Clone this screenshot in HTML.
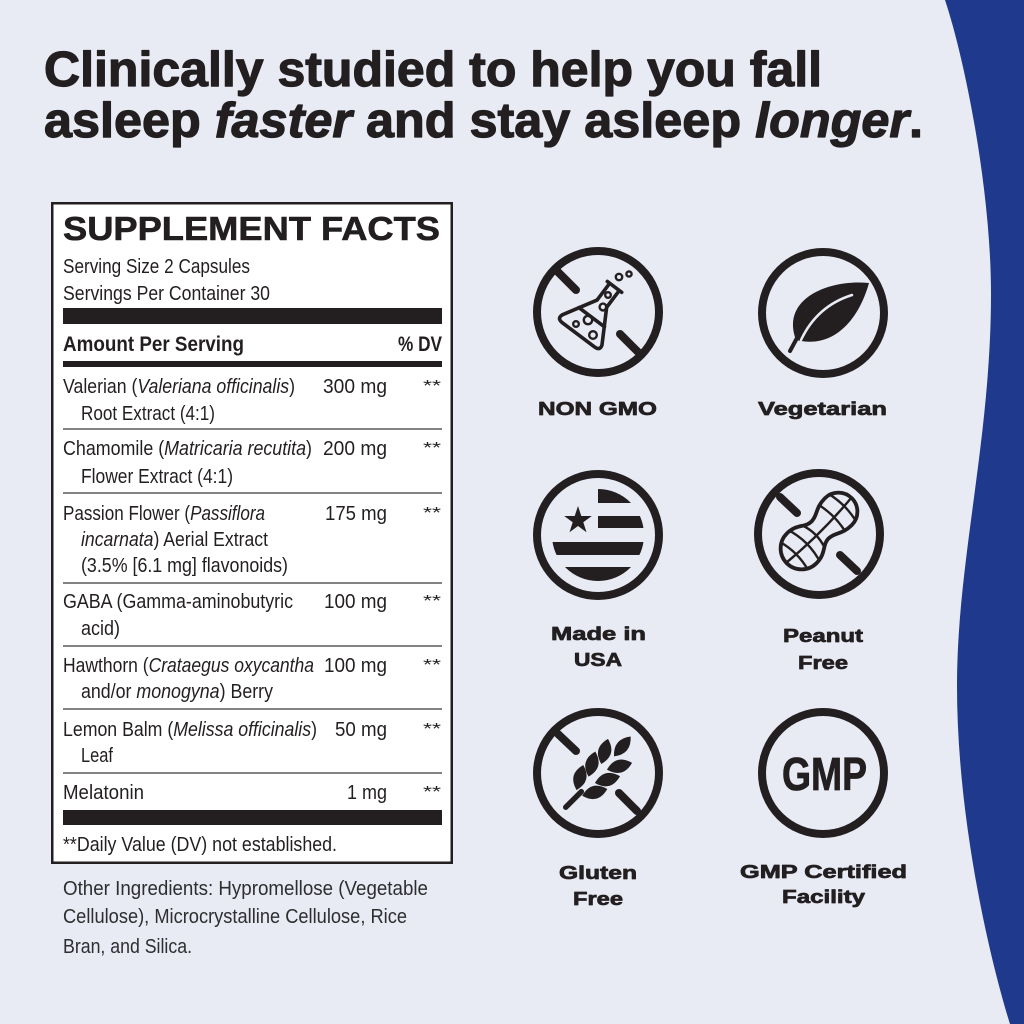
<!DOCTYPE html>
<html>
<head>
<meta charset="utf-8">
<style>
  html,body{margin:0;padding:0;background:#e8eaf4;}
  svg{display:block;}
  .t{font-family:"Liberation Sans",Arial,sans-serif;fill:#231f20;}
  .b{font-weight:bold;}
  .i{font-style:italic;}
</style>
</head>
<body>
<svg width="1024" height="1024" viewBox="0 0 1024 1024" xmlns="http://www.w3.org/2000/svg">
  <rect x="0" y="0" width="1024" height="1024" fill="#e8eaf4"/>
  <!-- blue wave -->
  <path d="M945,0 C965,60 991,190 991,294 C991,440 957,560 957,686 C957,820 990,960 1010,1024 L1024,1024 L1024,0 Z" fill="#1f3a8c"/>

  <!-- Title -->
  <g stroke="#231f20" stroke-width="1.2" stroke-linejoin="round">
  <text class="t b" x="44" y="86" font-size="49" textLength="778" lengthAdjust="spacingAndGlyphs">Clinically studied to help you fall</text>
  <text class="t b" x="44" y="137" font-size="49" textLength="879" lengthAdjust="spacingAndGlyphs">asleep <tspan class="i">faster</tspan> and stay asleep <tspan class="i">longer</tspan>.</text>
  </g>

  <!-- Supplement facts box -->
  <rect x="52.25" y="203.25" width="399.5" height="659.5" fill="#ffffff" stroke="#231f20" stroke-width="2.5"/>
  <text class="t b" x="63" y="240" font-size="33" textLength="377" lengthAdjust="spacingAndGlyphs" stroke="#231f20" stroke-width="0.6">SUPPLEMENT FACTS</text>
  <text class="t" x="63" y="273" font-size="20" textLength="187" lengthAdjust="spacingAndGlyphs">Serving Size 2 Capsules</text>
  <text class="t" x="63" y="300" font-size="20" textLength="207" lengthAdjust="spacingAndGlyphs">Servings Per Container 30</text>
  <rect x="63" y="308" width="379" height="16" fill="#231f20"/>
  <text class="t b" x="63" y="351" font-size="21" textLength="181" lengthAdjust="spacingAndGlyphs">Amount Per Serving</text>
  <text class="t b" x="398" y="351" font-size="21" textLength="44" lengthAdjust="spacingAndGlyphs">% DV</text>
  <rect x="63" y="361" width="379" height="6" fill="#231f20"/>

  <g class="t" font-size="20">
    <text x="63" y="393" textLength="232" lengthAdjust="spacingAndGlyphs">Valerian (<tspan class="i">Valeriana officinalis</tspan>)</text>
    <text x="323" y="393" textLength="64" lengthAdjust="spacingAndGlyphs">300 mg</text>
    <text x="81" y="420" textLength="134" lengthAdjust="spacingAndGlyphs">Root Extract (4:1)</text>

    <text x="63" y="455" textLength="249" lengthAdjust="spacingAndGlyphs">Chamomile (<tspan class="i">Matricaria recutita</tspan>)</text>
    <text x="323" y="455" textLength="64" lengthAdjust="spacingAndGlyphs">200 mg</text>
    <text x="81" y="483" textLength="152" lengthAdjust="spacingAndGlyphs">Flower Extract (4:1)</text>

    <text x="63" y="520" textLength="202" lengthAdjust="spacingAndGlyphs">Passion Flower (<tspan class="i">Passiflora</tspan></text>
    <text x="325" y="520" textLength="62" lengthAdjust="spacingAndGlyphs">175 mg</text>
    <text x="81" y="546" textLength="187" lengthAdjust="spacingAndGlyphs"><tspan class="i">incarnata</tspan>) Aerial Extract</text>
    <text x="81" y="572" textLength="207" lengthAdjust="spacingAndGlyphs">(3.5% [6.1 mg] flavonoids)</text>

    <text x="63" y="608" textLength="230" lengthAdjust="spacingAndGlyphs">GABA (Gamma-aminobutyric</text>
    <text x="324" y="608" textLength="63" lengthAdjust="spacingAndGlyphs">100 mg</text>
    <text x="81" y="635" textLength="39" lengthAdjust="spacingAndGlyphs">acid)</text>

    <text x="63" y="672" textLength="251" lengthAdjust="spacingAndGlyphs">Hawthorn (<tspan class="i">Crataegus oxycantha</tspan></text>
    <text x="324" y="672" textLength="63" lengthAdjust="spacingAndGlyphs">100 mg</text>
    <text x="81" y="698" textLength="192" lengthAdjust="spacingAndGlyphs">and/or <tspan class="i">monogyna</tspan>) Berry</text>

    <text x="63" y="736" textLength="254" lengthAdjust="spacingAndGlyphs">Lemon Balm (<tspan class="i">Melissa officinalis</tspan>)</text>
    <text x="335" y="736" textLength="52" lengthAdjust="spacingAndGlyphs">50 mg</text>
    <text x="81" y="762" textLength="32" lengthAdjust="spacingAndGlyphs">Leaf</text>

    <text x="63" y="799" textLength="81" lengthAdjust="spacingAndGlyphs">Melatonin</text>
    <text x="347" y="799" textLength="40" lengthAdjust="spacingAndGlyphs">1 mg</text>

    <text x="63" y="851" textLength="274" lengthAdjust="spacingAndGlyphs">**Daily Value (DV) not established.</text>
  </g>
  <g class="t" font-size="16">
    <text x="423" y="391" textLength="18" lengthAdjust="spacingAndGlyphs">**</text>
    <text x="423" y="453" textLength="18" lengthAdjust="spacingAndGlyphs">**</text>
    <text x="423" y="518" textLength="18" lengthAdjust="spacingAndGlyphs">**</text>
    <text x="423" y="606" textLength="18" lengthAdjust="spacingAndGlyphs">**</text>
    <text x="423" y="670" textLength="18" lengthAdjust="spacingAndGlyphs">**</text>
    <text x="423" y="734" textLength="18" lengthAdjust="spacingAndGlyphs">**</text>
    <text x="423" y="797" textLength="18" lengthAdjust="spacingAndGlyphs">**</text>
  </g>
  <g stroke="#5a5a5a" stroke-width="1.5">
    <line x1="63" y1="429" x2="442" y2="429"/>
    <line x1="63" y1="493" x2="442" y2="493"/>
    <line x1="63" y1="583" x2="442" y2="583"/>
    <line x1="63" y1="646" x2="442" y2="646"/>
    <line x1="63" y1="709" x2="442" y2="709"/>
    <line x1="63" y1="773" x2="442" y2="773"/>
  </g>
  <rect x="63" y="810" width="379" height="15" fill="#231f20"/>

  <!-- Other ingredients -->
  <g class="t" font-size="20" style="fill:#2e2e30">
    <text x="63" y="895" textLength="365" lengthAdjust="spacingAndGlyphs">Other Ingredients: Hypromellose (Vegetable</text>
    <text x="63" y="923" textLength="344" lengthAdjust="spacingAndGlyphs">Cellulose), Microcrystalline Cellulose, Rice</text>
    <text x="63" y="953" textLength="129" lengthAdjust="spacingAndGlyphs">Bran, and Silica.</text>
  </g>

  <!-- ICON RINGS -->
  <g fill="none" stroke="#231f20" stroke-width="8">
    <circle cx="598" cy="312" r="61"/>
    <circle cx="823" cy="313" r="61"/>
    <circle cx="598" cy="535" r="61"/>
    <circle cx="819" cy="534" r="61"/>
    <circle cx="598" cy="773" r="61"/>
    <circle cx="823" cy="773" r="61"/>
  </g>
  <!-- slashes -->
  <g stroke="#231f20" stroke-width="8" stroke-linecap="round">
    <line x1="557" y1="271" x2="576" y2="290"/>
    <line x1="620" y1="334" x2="639" y2="353"/>
    <line x1="780" y1="497" x2="797" y2="513"/>
    <line x1="840" y1="555" x2="857" y2="571"/>
    <line x1="558" y1="734" x2="576" y2="751"/>
    <line x1="619" y1="793" x2="637" y2="811"/>
  </g>

  <!-- Flask -->
  <g transform="translate(579,334) rotate(37)" fill="none" stroke="#231f20" stroke-width="3.6" stroke-linejoin="round" stroke-linecap="round">
    <path d="M-6,-58 L-6,-38 L-25,-5 Q-27,1 -20,1 L20,1 Q27,1 25,-5 L6,-38 L6,-58"/>
    <line x1="-9" y1="-59" x2="9" y2="-59"/>
    <line x1="-16" y1="-21" x2="16" y2="-21"/>
  </g>
  <g fill="none" stroke="#231f20" stroke-width="2.4">
    <circle cx="576" cy="324" r="2.8"/>
    <circle cx="588" cy="320" r="4.2"/>
    <circle cx="593" cy="335" r="3.8"/>
    <circle cx="603" cy="307" r="3.4"/>
    <circle cx="608" cy="295" r="2.8"/>
    <circle cx="619" cy="277" r="3.2"/>
    <circle cx="629" cy="274" r="2.6"/>
  </g>

  <!-- Leaf -->
  <path d="M796,340 C780,298 830,279 869,283 C858,322 832,349 796,340 Z" fill="#231f20"/>
  <line x1="797" y1="338" x2="790" y2="351" stroke="#231f20" stroke-width="4" stroke-linecap="round"/>
  <path d="M801,340 Q817,306 852,295" fill="none" stroke="#e8eaf4" stroke-width="2.5" stroke-linecap="round"/>

  <!-- USA flag -->
  <defs>
    <clipPath id="usa"><circle cx="598" cy="535" r="46"/></clipPath>
    <clipPath id="pn"><path transform="translate(820,530) rotate(-45)" d="M-26,-21 C-12,-21 -9,-12 0,-12 C9,-12 12,-19 26,-19 A19 19 0 0 1 26,19 C12,19 9,12 0,12 C-9,12 -12,21 -26,21 A21 21 0 0 1 -26,-21 Z"/></clipPath>
  </defs>
  <g clip-path="url(#usa)" fill="#231f20">
    <rect x="598" y="486" width="60" height="17"/>
    <rect x="598" y="516" width="60" height="12"/>
    <rect x="540" y="542" width="120" height="13"/>
    <rect x="540" y="567" width="120" height="25"/>
  </g>
  <polygon fill="#231f20" points="578,506 581.3,516 591.8,516 583.3,522.2 586.5,532.2 578,526 569.5,532.2 572.7,522.2 564.2,516 574.7,516"/>

  <!-- Peanut -->
  <g clip-path="url(#pn)" fill="none" stroke="#231f20" stroke-width="2.4">
    <g transform="translate(820,530) rotate(-45)">
      <path d="M-50,-1 Q0,4 48,-1"/>
      <path d="M-38,-24 Q-30,0 -38,24"/>
      <path d="M-23,-24 Q-15,0 -23,24"/>
      <path d="M-9,-15 Q-4,0 -9,15"/>
      <path d="M16,-22 Q22,0 16,22"/>
      <path d="M31,-22 Q37,0 31,22"/>
    </g>
  </g>
  <path transform="translate(820,530) rotate(-45)" d="M-26,-21 C-12,-21 -9,-12 0,-12 C9,-12 12,-19 26,-19 A19 19 0 0 1 26,19 C12,19 9,12 0,12 C-9,12 -12,21 -26,21 A21 21 0 0 1 -26,-21 Z" fill="none" stroke="#231f20" stroke-width="3.8" stroke-linejoin="round"/>

  <!-- Wheat -->
  <g transform="translate(570,803) rotate(-45)" fill="#231f20">
    <line x1="-6" y1="0" x2="16" y2="0" stroke="#231f20" stroke-width="5.5" stroke-linecap="round"/>
    <path transform="translate(25,-11) rotate(-30)" d="M-13,0 Q0,-13 13,0 Q0,13 -13,0 Z"/>
    <path transform="translate(43,-12) rotate(-30)" d="M-13,0 Q0,-13 13,0 Q0,13 -13,0 Z"/>
    <path transform="translate(61,-12) rotate(-30)" d="M-13,0 Q0,-13 13,0 Q0,13 -13,0 Z"/>
    <path transform="translate(25,10) rotate(30)" d="M-13,0 Q0,-13 13,0 Q0,13 -13,0 Z"/>
    <path transform="translate(43,10) rotate(30)" d="M-13,0 Q0,-13 13,0 Q0,13 -13,0 Z"/>
    <path transform="translate(61,9) rotate(30)" d="M-13,0 Q0,-13 13,0 Q0,13 -13,0 Z"/>
    <path transform="translate(77,-3) rotate(-5)" d="M-13,0 Q0,-12 13,0 Q0,12 -13,0 Z"/>
  </g>

  <!-- GMP -->
  <text class="t b" x="782" y="790" font-size="46" textLength="85" lengthAdjust="spacingAndGlyphs" stroke="#231f20" stroke-width="0.8">GMP</text>

  <!-- Icon labels -->
  <g class="t b" font-size="18" stroke="#231f20" stroke-width="0.7" stroke-linejoin="round">
    <text x="538" y="415" textLength="119" lengthAdjust="spacingAndGlyphs">NON GMO</text>
    <text x="758" y="415" textLength="129" lengthAdjust="spacingAndGlyphs">Vegetarian</text>
    <text x="551" y="640" textLength="95" lengthAdjust="spacingAndGlyphs">Made in</text>
    <text x="574" y="666" textLength="48" lengthAdjust="spacingAndGlyphs">USA</text>
    <text x="783" y="642" textLength="80" lengthAdjust="spacingAndGlyphs">Peanut</text>
    <text x="798" y="669" textLength="50" lengthAdjust="spacingAndGlyphs">Free</text>
    <text x="559" y="879" textLength="78" lengthAdjust="spacingAndGlyphs">Gluten</text>
    <text x="573" y="905" textLength="50" lengthAdjust="spacingAndGlyphs">Free</text>
    <text x="740" y="878" textLength="167" lengthAdjust="spacingAndGlyphs">GMP Certified</text>
    <text x="782" y="903" textLength="83" lengthAdjust="spacingAndGlyphs">Facility</text>
  </g>
</svg>
</body>
</html>
